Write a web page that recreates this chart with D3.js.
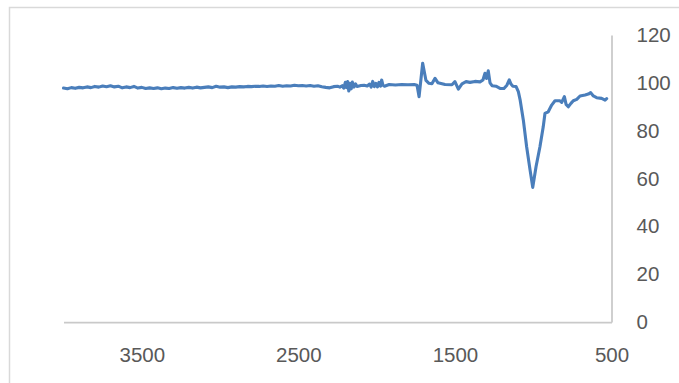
<!DOCTYPE html>
<html>
<head>
<meta charset="utf-8">
<script src="https://cdn.jsdelivr.net/npm/d3@7"></script>
<style>
  html, body { margin: 0; padding: 0; background: #fff; }
  svg { display: block; }
  .tick text { font-family: 'Liberation Sans', Arial, sans-serif; font-size: 20.5px; fill: #595959; }
</style>
</head>
<body>
<div id="chart"></div>
<script>
// wavenumber (cm-1) and transmittance (%)
var wavenumbers = [
  4000, 3975, 3950, 3925, 3900, 3875, 3850, 3825, 3800, 3775, 3750, 3725, 3700, 3675, 3650, 3625,
  3600, 3575, 3550, 3525, 3500, 3475, 3450, 3425, 3400, 3375, 3350, 3325, 3300, 3275, 3250, 3225,
  3200, 3175, 3150, 3125, 3100, 3075, 3050, 3025, 3000, 2975, 2950, 2925, 2900, 2875, 2850, 2825,
  2800, 2775, 2750, 2725, 2700, 2675, 2650, 2625, 2600, 2575, 2550, 2525, 2500, 2475, 2450, 2425,
  2400, 2375, 2350, 2325, 2300, 2275, 2250, 2235,
  2220, 2210, 2200, 2192, 2185, 2178, 2170, 2162, 2155, 2145, 2135, 2125, 2100, 2080, 2060, 2045,
  2035, 2025, 2015, 2005, 1995, 1985, 1975, 1968, 1960, 1950, 1920, 1880, 1840, 1800, 1760, 1742,
  1729, 1706, 1685, 1666, 1647, 1627, 1608, 1563, 1519, 1500, 1478, 1455, 1429, 1404, 1372, 1340,
  1321, 1308, 1298, 1287, 1276, 1263, 1238, 1212, 1187, 1168, 1153, 1142, 1130, 1110, 1095, 1084,
  1063, 1042, 1020, 1003, 982, 957, 936, 925, 904, 882, 861, 829, 818, 801, 790, 776,
  759, 744, 722, 701, 669, 648, 633, 616, 595, 563, 541, 531
];
var transmittance = [
  97.8, 97.5, 98.0, 97.7, 98.1, 97.9, 98.3, 98.0, 98.5, 98.2, 98.7, 98.4, 98.8, 98.3, 98.6, 97.9,
  98.3, 98.0, 98.5, 97.8, 98.1, 97.6, 97.9, 97.6, 97.9, 97.5, 97.8, 97.6, 98.0, 97.7, 98.0, 97.8,
  98.1, 97.8, 98.2, 97.9, 98.1, 98.3, 98.0, 98.6, 98.2, 98.3, 98.0, 98.3, 98.2, 98.4, 98.3, 98.5,
  98.4, 98.6, 98.5, 98.7, 98.5, 98.7, 98.6, 98.9, 98.6, 98.8, 98.7, 99.0, 98.8, 98.9, 98.7, 98.9,
  98.6, 98.8, 98.4, 98.1, 97.9, 98.4, 98.6, 98.2,
  98.8, 97.8, 100.2, 98.0, 100.5, 96.6, 99.8, 97.5, 100.3, 98.2, 99.6, 98.5, 98.9, 99.0, 98.7, 99.5,
  98.2, 100.6, 98.4, 99.8, 98.3, 100.2, 98.6, 101.2, 99.0, 98.6, 99.3, 99.1, 99.3, 99.2, 99.3, 99.0,
  94.2, 108.2, 101.0, 99.8, 99.6, 101.9, 100.0, 99.3, 99.2, 100.5, 97.4, 99.6, 100.5, 100.2, 100.6, 100.4,
  101.2, 104.0, 101.8, 105.0, 100.0, 98.8, 98.6, 97.7, 97.6, 99.0, 101.2, 99.5, 98.6, 98.5, 96.3, 93.0,
  84.4, 73.3, 63.5, 56.3, 64.9, 73.3, 81.6, 87.2, 87.9, 90.7, 92.5, 92.5, 91.8, 94.2, 91.0, 90.0,
  91.4, 92.5, 93.1, 94.5, 94.9, 95.3, 95.9, 94.5, 93.8, 93.5, 92.8, 93.4
];
var xTicks = [3500, 2500, 1500, 500];
var yTicks = [0, 20, 40, 60, 80, 100, 120];

var width = 679, height = 383;
var margin = { left: 63.5, right: 611.5, top: 35, bottom: 322 };

var svg = d3.select('#chart').append('svg')
  .attr('width', width)
  .attr('height', height);

// outer chart frame
svg.append('rect')
  .attr('x', 9.5)
  .attr('y', 7.5)
  .attr('width', 720)
  .attr('height', 420)
  .attr('fill', 'none')
  .attr('stroke', '#d9d9d9')
  .attr('stroke-width', 1.5);

var x = d3.scaleLinear().domain([4000, 500]).range([margin.left, margin.right]);
var y = d3.scaleLinear().domain([0, 120]).range([margin.bottom, margin.top]);

// x axis
var xAxis = svg.append('g')
  .attr('transform', 'translate(0,' + margin.bottom + ')')
  .call(d3.axisBottom(x).tickValues(xTicks).tickSize(0).tickPadding(25.5).tickFormat(d3.format('d')));
xAxis.select('.domain').attr('stroke', '#c9c9c9').attr('stroke-width', 1.75);

// y axis on the right
var yAxis = svg.append('g')
  .attr('transform', 'translate(' + margin.right + ',0)')
  .call(d3.axisRight(y).tickValues(yTicks).tickSize(0).tickPadding(25));
yAxis.select('.domain').attr('stroke', '#c9c9c9').attr('stroke-width', 1.75);

// spectrum line
var data = wavenumbers.map(function(w, i){ return { w: w, t: transmittance[i] }; });
var line = d3.line()
  .x(function(d){ return x(d.w); })
  .y(function(d){ return y(d.t); });

svg.append('path')
  .datum(data)
  .attr('d', line)
  .attr('fill', 'none')
  .attr('stroke', '#4a7ebb')
  .attr('stroke-width', 3.1)
  .attr('stroke-linejoin', 'round')
  .attr('stroke-linecap', 'round');
</script>
</body>
</html>
